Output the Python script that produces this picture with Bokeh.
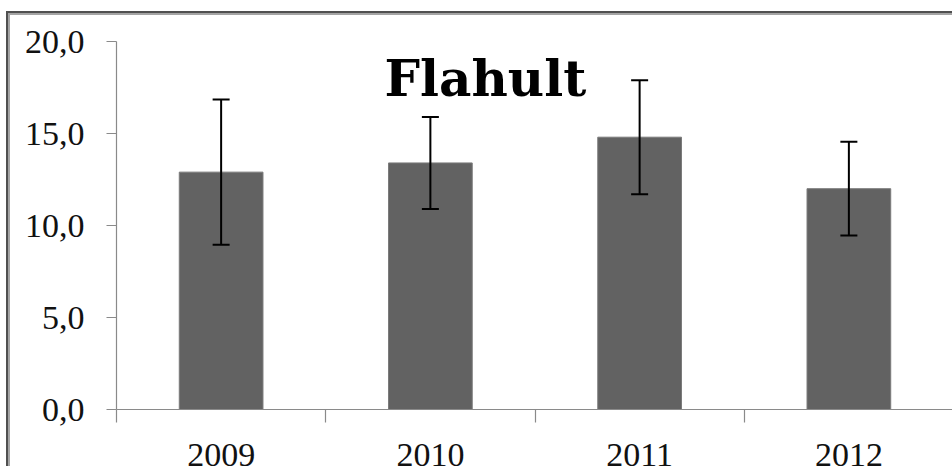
from bokeh.plotting import figure
from bokeh.layouts import column
from bokeh.models import ColumnDataSource, FixedTicker, Label, Range1d
from bokeh.embed import file_html
from bokeh.resources import INLINE

years = ["2009", "2010", "2011", "2012"]
means = [12.9, 13.4, 14.8, 12.0]
errors = [3.95, 2.5, 3.1, 2.55]
y_ticks = [0, 5, 10, 15, 20]
title_text = "Flahult"

xs = list(range(1, len(years) + 1))
src = ColumnDataSource(dict(
    x=xs, top=means,
    upper=[m + e for m, e in zip(means, errors)],
    lower=[m - e for m, e in zip(means, errors)],
))

p = figure(width=944, height=453, output_backend="svg", toolbar_location=None,
           x_range=Range1d(0.5, len(years) + 0.5), y_range=Range1d(0, 20),
           styles={"border-top": "2px solid #a4a4a4", "border-left": "2px solid #a4a4a4"})
p.min_border_left = 106
p.min_border_right = 1
p.min_border_top = 26
p.min_border_bottom = 57
p.outline_line_color = None
p.xgrid.visible = False
p.ygrid.visible = False
p.background_fill_color = "white"
p.border_fill_color = "white"

p.vbar(x="x", top="top", bottom=0, width=0.4, source=src,
       fill_color="#626262", line_color="#7a7a7a", line_width=1)
p.segment(x0="x", y0="lower", x1="x", y1="upper", source=src,
          line_color="black", line_width=2)
p.scatter(x="x", y="upper", source=src, marker="dash", size=17,
          line_color="black", line_width=2)
p.scatter(x="x", y="lower", source=src, marker="dash", size=17,
          line_color="black", line_width=2)

ax = p.xaxis[0]
ax.ticker = FixedTicker(ticks=xs, minor_ticks=[x - 0.5 for x in xs] + [xs[-1] + 0.5])
ax.major_label_overrides = {x: y for x, y in zip(xs, years)}
ax.major_tick_line_color = None
ax.minor_tick_in = 0
ax.minor_tick_out = 13
ax.minor_tick_line_color = "#8a8a8a"
ax.axis_line_color = "#8a8a8a"
ax.axis_line_width = 1.2
ax.minor_tick_line_width = 1.2
ax.major_label_text_font = "Liberation Serif"
ax.major_label_text_font_size = "34px"
ax.major_label_text_color = "#111111"
ax.major_label_standoff = 21

ay = p.yaxis[0]
ay.ticker = FixedTicker(ticks=y_ticks, minor_ticks=[])
ay.major_label_overrides = {t: f"{t:.1f}".replace(".", ",") for t in y_ticks}
ay.major_tick_in = 0
ay.major_tick_out = 10
ay.major_tick_line_color = "#8a8a8a"
ay.major_tick_line_width = 1.2
ay.axis_line_color = "#8a8a8a"
ay.axis_line_width = 1.2
ay.major_label_text_font = "Liberation Serif"
ay.major_label_text_font_size = "34px"
ay.major_label_text_color = "#111111"
ay.major_label_standoff = 22

p.add_layout(Label(x=2.263, y=18.0, text=title_text, text_align="center",
                   text_baseline="alphabetic", text_font="DejaVu Serif",
                   text_font_style="bold", text_font_size="50px", text_color="black"))

layout = column(p, styles={"margin-left": "6px", "margin-top": "11px",
                           "border-top": "2px solid #505050",
                           "border-left": "2px solid #505050"})

open("out.html", "w").write(file_html(layout, INLINE))
